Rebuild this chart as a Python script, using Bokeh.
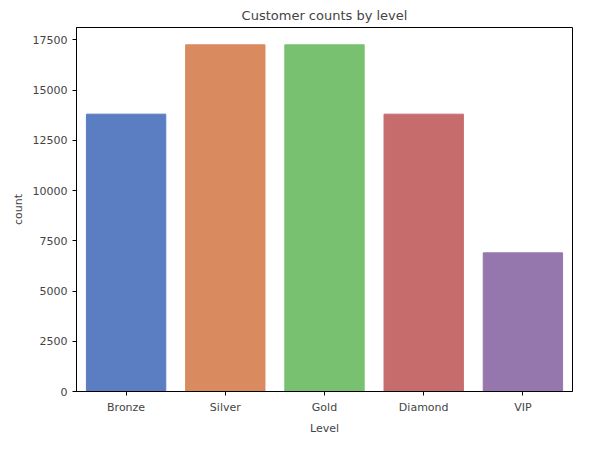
from bokeh.plotting import figure
from bokeh.models import ColumnDataSource, FactorRange, Range1d, SingleIntervalTicker
from bokeh.embed import file_html
from bokeh.resources import INLINE

levels = ["Bronze", "Silver", "Gold", "Diamond", "VIP"]
counts = [13800, 17250, 17250, 13800, 6900]
colors = ["#5b7dc2", "#d98b5f", "#77c170", "#c66c6c", "#9577ae"]

source = ColumnDataSource(dict(level=levels, count=counts, color=colors))

p = figure(width=573, height=437,
           x_range=FactorRange(*levels, range_padding=0),
           y_range=Range1d(0, 18112),
           output_backend="svg", toolbar_location=None,
           title="Customer counts by level")
p.min_border_left = 76
p.min_border_right = 1
p.min_border_top = 22
p.min_border_bottom = 45

p.vbar(x="level", top="count", width=0.8, color="color", source=source)

p.title.align = "center"
p.title.text_font_style = "normal"
p.title.text_font = "DejaVu Sans"
p.title.text_font_size = "13px"

p.xaxis.axis_label = "Level"
p.yaxis.axis_label = "count"
p.yaxis.ticker = SingleIntervalTicker(interval=2500)
for ax in (p.xaxis, p.yaxis):
    ax.axis_label_text_font_style = "normal"
    ax.axis_label_text_font = "DejaVu Sans"
    ax.axis_label_text_font_size = "11px"
    ax.major_label_text_font = "DejaVu Sans"
    ax.major_label_text_font_size = "11px"
    ax.minor_tick_line_color = None
    ax.axis_line_color = "black"
    ax.major_tick_line_color = "black"
    ax.major_tick_out = 4
    ax.major_tick_in = 0

p.xgrid.grid_line_color = None
p.ygrid.grid_line_color = None
p.outline_line_color = "black"

open("out.html", "w").write(file_html(p, INLINE))
